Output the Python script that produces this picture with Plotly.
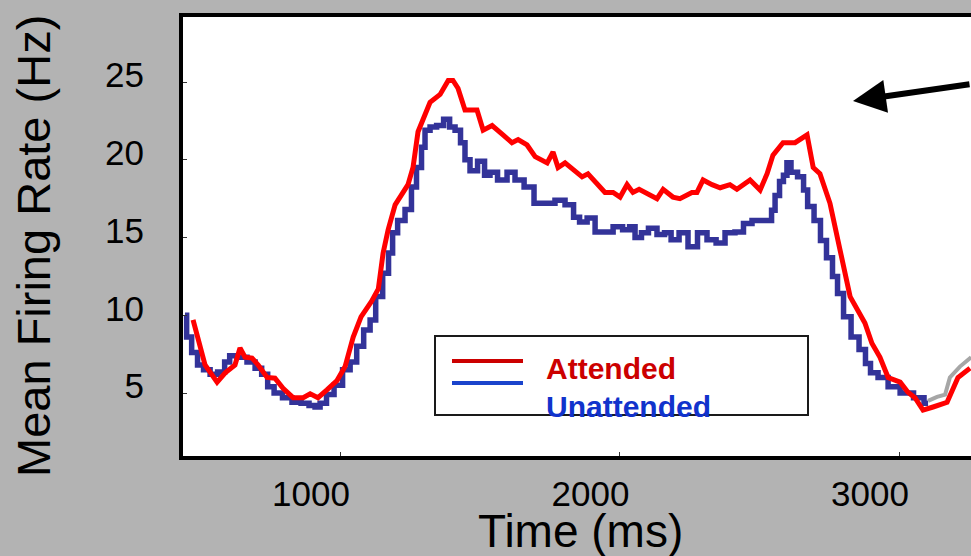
import plotly.graph_objects as go

# ---- data ----
attended_t = [474, 517, 560, 589, 624, 642, 660, 685, 707, 739,
              767, 796, 832, 868, 893, 921, 953, 989, 1018, 1047,
              1075, 1113, 1137, 1154, 1172, 1197, 1243, 1261, 1279, 1297,
              1322, 1358, 1387, 1404, 1422, 1447, 1490, 1512, 1544, 1583,
              1615, 1637, 1669, 1698, 1741, 1762, 1780, 1805, 1866, 1887,
              1912, 1948, 1977, 2002, 2027, 2048, 2070, 2098, 2134, 2156,
              2191, 2216, 2259, 2277, 2299, 2331, 2360, 2395, 2420, 2467,
              2503, 2528, 2549, 2585, 2628, 2671, 2693, 2717, 2753, 2789,
              2825, 2878, 2903, 2932, 2961, 3004, 3032, 3057, 3086, 3122,
              3172, 3211, 3254]
attended_rate = [9.7, 6.8, 5.7, 6.3, 6.8, 7.9, 7.3, 7.25, 6.8, 6.0,
                 5.95, 5.3, 4.7, 4.7, 4.95, 4.7, 5.2, 5.8, 6.7, 8.6,
                 9.9, 10.9, 11.7, 14.0, 15.5, 17.1, 18.4, 19.5, 21.8, 22.6,
                 23.7, 24.2, 25.1, 25.1, 24.6, 23.2, 23.2, 21.9, 22.2, 21.6,
                 21.1, 21.3, 20.95, 20.2, 19.8, 20.5, 19.5, 19.8, 18.9, 19.1,
                 18.6, 17.9, 17.9, 17.6, 18.4, 17.9, 18.1, 17.8, 17.5, 18.1,
                 17.6, 17.5, 17.9, 17.9, 18.7, 18.4, 18.2, 18.4, 18.1, 18.7,
                 18.05, 19.1, 20.3, 21.1, 21.1, 21.6, 19.5, 19.1, 17.2, 14.2,
                 11.2, 9.5, 8.2, 7.3, 6.0, 5.7, 5.05, 4.7, 3.9, 4.1,
                 4.4, 6.0, 6.6]

unattended_t = [445, 457, 481, 499, 524, 546, 578, 596, 614, 649,
                685, 707, 732, 750, 778, 810, 846, 875, 903, 918,
                939, 964, 993, 1025, 1047, 1072, 1097, 1118, 1137, 1168,
                1179, 1197, 1215, 1250, 1261, 1286, 1297, 1311, 1333, 1358,
                1383, 1401, 1422, 1440, 1454, 1476, 1508, 1526, 1547, 1580,
                1615, 1637, 1680, 1708, 1751, 1787, 1823, 1848, 1866, 1902,
                1923, 1959, 1995, 2027, 2045, 2066, 2091, 2116, 2152, 2170,
                2199, 2227, 2263, 2295, 2331, 2360, 2395, 2431, 2456, 2492,
                2539, 2549, 2564, 2581, 2592, 2606, 2621, 2653, 2664, 2682,
                2710, 2728, 2753, 2771, 2789, 2814, 2843, 2871, 2889, 2907,
                2943, 2979, 3029, 3075, 3104]
unattended_rate = [10.0, 8.6, 7.6, 6.8, 6.5, 6.2, 6.35, 7.0, 7.4, 7.3,
                   7.0, 6.6, 6.2, 5.4, 5.0, 4.7, 4.4, 4.35, 4.2, 4.1,
                   4.35, 4.9, 5.5, 6.5, 7.0, 8.0, 9.05, 9.7, 11.2, 12.7,
                   14.0, 15.3, 16.1, 16.8, 18.25, 19.5, 20.8, 21.9, 22.1, 22.2,
                   22.6, 22.1, 21.9, 21.1, 20.0, 19.3, 19.9, 19.0, 19.2, 18.7,
                   19.2, 18.7, 18.25, 17.2, 17.2, 17.4, 17.1, 16.3, 16.0, 16.25,
                   15.35, 15.35, 15.7, 15.5, 15.7, 15.0, 15.3, 15.6, 15.2, 15.3,
                   14.85, 15.3, 14.4, 15.3, 14.85, 14.65, 15.3, 15.35, 15.9, 16.1,
                   16.1, 16.75, 17.7, 18.6, 19.0, 19.8, 19.2, 18.9, 18.05, 17.0,
                   16.1, 14.8, 13.7, 12.5, 11.4, 9.9, 8.6, 7.8, 6.9, 6.3,
                   6.0, 5.4, 5.0, 4.7, 4.35]

other_t = [3104, 3136, 3165, 3182, 3218, 3258]
other_rate = [4.5, 4.75, 4.9, 6.0, 6.7, 7.3]

x_ticks = [1000, 2000, 3000]
y_ticks = [5, 10, 15, 20, 25]
legend_labels = ["Attended", "Unattended"]

FONT = "Liberation Sans, Arial, sans-serif"

fig = go.Figure()
fig.add_trace(go.Scatter(x=unattended_t, y=unattended_rate, mode="lines",
                         line=dict(color="#333399", width=5.5, shape="hvh"),
                         name=legend_labels[1], showlegend=False))
fig.add_trace(go.Scatter(x=other_t, y=other_rate, mode="lines",
                         line=dict(color="#a6a6a6", width=4),
                         name="other", showlegend=False))
fig.add_trace(go.Scatter(x=attended_t, y=attended_rate, mode="lines",
                         line=dict(color="#ff0000", width=5),
                         name=legend_labels[0], showlegend=False))

L, T, B, R = 183, 17, 100, 0
W, H = 971, 556
pw, ph = W - L - R, H - T - B


def px_x(p):
    return (p - L) / pw


def px_y(p):
    return (H - B - p) / ph


shapes = [
    dict(type="rect", xref="paper", yref="paper",
         x0=px_x(435), x1=px_x(808), y0=px_y(415), y1=px_y(336),
         line=dict(color="#1a1a1a", width=2), fillcolor="white", layer="above"),
    dict(type="line", xref="paper", yref="paper",
         x0=px_x(452), x1=px_x(523), y0=px_y(361), y1=px_y(361),
         line=dict(color="#cc0000", width=4)),
    dict(type="line", xref="paper", yref="paper",
         x0=px_x(452), x1=px_x(523), y0=px_y(383), y1=px_y(383),
         line=dict(color="#1a44cc", width=4)),
]

annotations = [
    dict(xref="paper", yref="paper", x=px_x(544), y=px_y(368),
         xanchor="left", yanchor="middle", showarrow=False,
         text="<b>" + legend_labels[0] + "</b>",
         font=dict(family=FONT, size=30, color="#cc0000")),
    dict(xref="paper", yref="paper", x=px_x(544), y=px_y(406),
         xanchor="left", yanchor="middle", showarrow=False,
         text="<b>" + legend_labels[1] + "</b>",
         font=dict(family=FONT, size=30, color="#1133cc")),
    dict(xref="paper", yref="paper", x=px_x(33), y=px_y(246),
         xanchor="center", yanchor="middle", showarrow=False, textangle=-90,
         text="Mean Firing Rate (Hz)",
         font=dict(family=FONT, size=47, color="black")),
    dict(xref="paper", yref="paper", x=px_x(580), y=px_y(531),
         xanchor="center", yanchor="middle", showarrow=False,
         text="Time (ms)",
         font=dict(family=FONT, size=46, color="black")),
    dict(xref="paper", yref="paper", x=px_x(853), y=px_y(101),
         ax=140, ay=-17, text="", showarrow=True,
         arrowhead=2, arrowsize=1.1, arrowwidth=6, arrowcolor="black",
         standoff=0),
]

fig.update_layout(
    width=W, height=H,
    margin=dict(l=L, r=R, t=T, b=B, pad=0),
    paper_bgcolor="#b3b3b3",
    plot_bgcolor="white",
    showlegend=False,
    shapes=shapes,
    annotations=annotations,
    xaxis=dict(range=[438, 3257.6], showline=True, linecolor="black", linewidth=4,
               mirror=True, ticks="inside", ticklen=4, tickwidth=1, tickcolor="#333333",
               tickvals=x_ticks, ticktext=[str(v) for v in x_ticks],
               showgrid=False, zeroline=False,
               tickfont=dict(family=FONT, size=35, color="black"),
               ticklabelshift=-29, ticklabelstandoff=4),
    yaxis=dict(range=[0.95, 29.18], showline=True, linecolor="black", linewidth=4,
               ticks="inside", ticklen=4, tickwidth=1, tickcolor="#333333",
               tickvals=y_ticks, ticktext=[str(v) for v in y_ticks],
               showgrid=False, zeroline=False,
               tickfont=dict(family=FONT, size=35, color="black"),
               ticklabelshift=-7, ticklabelstandoff=28),
)

fig.write_html("out.html")
